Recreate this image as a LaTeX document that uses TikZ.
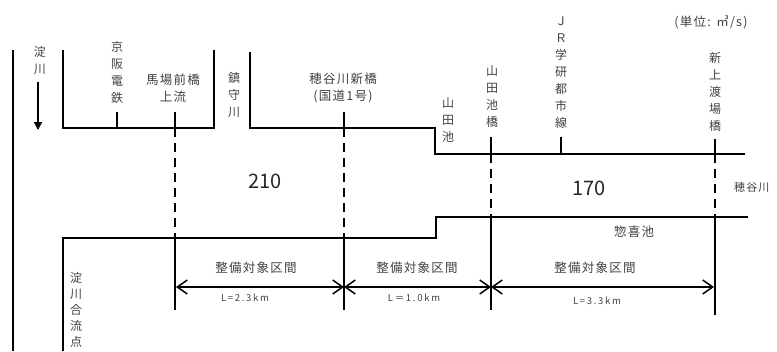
\documentclass[tikz,border=0pt]{standalone}
\usepackage{fontspec}
\setmainfont{Noto Sans CJK JP}
\newfontfamily\spacedjp[LetterSpace=10]{Noto Sans CJK JP}
\newfontfamily\spacedsmall[LetterSpace=18]{Noto Sans CJK JP}
\usetikzlibrary{arrows.meta}
\tikzset{
  bound/.style={line width=1.5pt, black},
  tick/.style={line width=1.5pt, black},
  dashline/.style={line width=1.1pt, dash pattern=on 9pt off 6pt},
  solidline/.style={line width=1.1pt},
  lbl/.style={inner sep=0pt, text=black!75, font=\spacedjp\fontsize{12.5}{15}\selectfont},
  vlbl/.style={inner sep=0pt, text=black!75, align=center, font=\fontsize{12}{17}\selectfont},
  small/.style={inner sep=0pt, text=black!75, font=\spacedsmall\fontsize{9.5}{11}\selectfont},
  big/.style={inner sep=0pt, text=black!85, font=\fontsize{20}{24}\selectfont},
  dimarrow/.style={line width=1.5pt, {Straight Barb[length=10pt,width=14pt]}-{Straight Barb[length=10pt,width=14pt]}}
}
\begin{document}
\begin{tikzpicture}[x=1pt,y=-1pt]
\useasboundingbox (0,0) rectangle (777,351);
% left main line
\draw[bound] (13,50) -- (13,351);
\node[vlbl] (yodo) at (40,60) {淀\\川};
\coordinate (arrS) at (38,82);
\coordinate (arrE) at (38,130);
\draw[line width=1.6pt, -{Triangle[length=8pt,width=8pt]}] (arrS) -- (arrE);

% upper boundary
\draw[bound] (63,50) -- (63,128) -- (214,128) -- (214,50);
\draw[bound] (250,52) -- (250,128) -- (435,128) -- (435,154) -- (745,154);

% lower boundary
\draw[bound] (63,351) -- (63,238) -- (436,238) -- (436,217) -- (748,217);

% upper ticks & labels
\node[vlbl] (keihan) at (117,72) {京\\阪\\電\\鉄};
\draw[tick] (117,112) -- (117,128);
\node[lbl] (baba) at (173,80) {馬場前橋};
\node[lbl] (jyoryu) at (173,97) {上流};
\draw[tick] (175,112) -- (175,128);
\node[vlbl] (chinju) at (234,95) {鎮\\守\\川};
\node[lbl] (hotani) at (343,79) {穂谷川新橋};
\node[lbl] (kokudo) at (343,96) {(国道1号)};
\draw[tick] (344,112) -- (344,128);
\node[vlbl] (yamadaike) at (448,120) {山\\田\\池};
\node[vlbl] (yamadabashi) at (492,97) {山\\田\\池\\橋};
\draw[tick] (491,137) -- (491,154);
\node[vlbl] (jr) at (561,73) {Ｊ\\Ｒ\\学\\研\\都\\市\\線};
\draw[tick] (561,137) -- (561,154);
\node[vlbl] (shinkami) at (715,92) {新\\上\\渡\\場\\橋};
\draw[tick] (715,139) -- (715,154);
\node[lbl] (unit) at (711,22) {(単位: ㎥/s)};

% dashed + solid section lines
\coordinate (a1) at (175,128); \coordinate (a2) at (175,238); \coordinate (a3) at (175,310);
\coordinate (b1) at (344,128); \coordinate (b2) at (344,238); \coordinate (b3) at (344,310);
\coordinate (c1) at (491,154); \coordinate (c2) at (491,217); \coordinate (c3) at (491,310);
\coordinate (d1) at (715,154); \coordinate (d2) at (715,217); \coordinate (d3) at (715,315);
\foreach \p in {a,b,c,d} {
  \draw[dashline] (\p1) -- (\p2);
  \draw[solidline] (\p2) -- (\p3);
}

% flows
\node[big] (q210) at (265,181) {210};
\node[big] (q170) at (589,188) {170};
\node[lbl, anchor=west, font=\spacedjp\fontsize{11}{13}\selectfont] (hotanigawa) at (734,187) {穂谷川};
\node[lbl] (sokiike) at (634,232) {惣喜池};
\node[vlbl, font=\fontsize{12}{16}\selectfont] (goryu) at (76,310) {淀\\川\\合\\流\\点};

% dimension arrows
\coordinate (p1) at (176,287); \coordinate (p2) at (344,287);
\coordinate (p3) at (491,287); \coordinate (p4) at (714,287);
\draw[dimarrow] (p1) -- (p2);
\draw[dimarrow] (p2) -- (p3);
\draw[dimarrow] (p3) -- (p4);
\node[lbl] (s1) at (256,268) {整備対象区間};
\node[lbl] (s2) at (417,268) {整備対象区間};
\node[lbl] (s3) at (595,268) {整備対象区間};
\node[small] (l1) at (245,298) {L=2.3km};
\node[small] (l2) at (414,298) {L＝1.0km};
\node[small] (l3) at (597,301) {L=3.3km};
\end{tikzpicture}
\end{document}
